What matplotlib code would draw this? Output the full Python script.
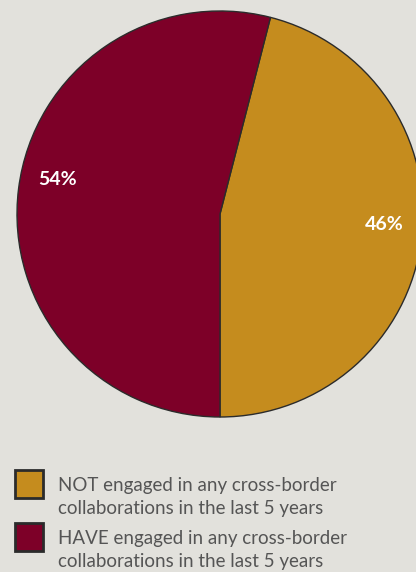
import matplotlib.pyplot as plt

# share of respondents, per group
shares = [46, 54]
groups = [
    "NOT engaged in any cross-border\ncollaborations in the last 5 years",
    "HAVE engaged in any cross-border\ncollaborations in the last 5 years",
]
colors = ["#c58c1e", "#7d0028"]
BG = "#e2e1dc"

W, H = 416, 572
fig = plt.figure(figsize=(W / 100, H / 100), dpi=100, facecolor=BG)
ax = fig.add_axes([0, 0, 1, 1])
ax.set_facecolor(BG)

cx, cy, r = 220, 358, 203
wedges, _, pct_texts = ax.pie(
    shares,
    colors=colors,
    startangle=-90,
    center=(cx, cy),
    radius=r,
    autopct="%d%%",
    wedgeprops=dict(edgecolor="#2b2b2b", linewidth=1.0),
    textprops=dict(color="white", fontsize=14, fontweight="bold", family="Lato"),
)
# percentage labels sit near the rim, slightly above each wedge's middle
pct_texts[0].set_position((cx + 0.81 * r, cy - 0.05 * r))
pct_texts[1].set_position((cx - 0.80 * r, cy + 0.17 * r))

ax.set_xlim(0, W)
ax.set_ylim(0, H)
ax.set_aspect("equal")
ax.axis("off")

# legend drawn by hand: swatch plus two-line label
rows = [(484, 491), (537, 544)]
for (box_mid, baseline), name, col in zip(rows, groups, colors):
    ax.add_patch(plt.Rectangle((15, H - box_mid - 14), 28, 28,
                               facecolor=col, edgecolor="#2b2b2b", linewidth=2))
    line1, line2 = name.split("\n")
    ax.text(58, H - baseline, line1, fontsize=13.5, color="#555555",
            family="Lato", va="baseline")
    ax.text(58, H - baseline - 23, line2, fontsize=13.5, color="#555555",
            family="Lato", va="baseline")

fig.savefig("out.png", dpi=100, facecolor=BG)
